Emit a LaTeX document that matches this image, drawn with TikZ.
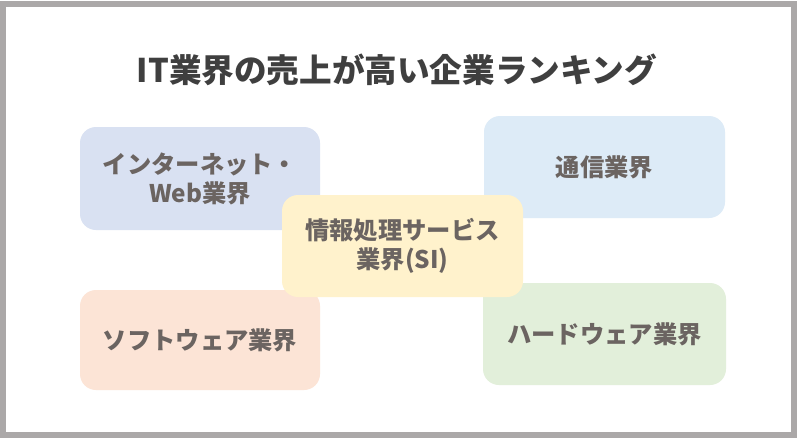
\documentclass[tikz,border=0pt]{standalone}
\usepackage{fontspec}
\newfontfamily\jp{Noto Sans CJK JP}
\definecolor{frame}{HTML}{ABA8A8}
\definecolor{txt}{HTML}{6B6461}
\definecolor{ttl}{HTML}{3F3F3F}
\definecolor{cblue}{HTML}{D9E1F2}
\definecolor{clblue}{HTML}{DDEBF7}
\definecolor{cyellow}{HTML}{FFF2CC}
\definecolor{cpink}{HTML}{FCE4D6}
\definecolor{cgreen}{HTML}{E2EFDA}
\tikzset{
  card/.style={rounded corners=16pt, inner sep=0pt, align=center, text=txt,
    font=\jp\bfseries\fontsize{24.3pt}{29pt}\selectfont},
}
\begin{document}
\begin{tikzpicture}[x=1pt,y=-1pt]
\useasboundingbox (0,0) rectangle (800,440);
\fill[white] (0,0) rectangle (800,440);
\draw[frame, line width=6pt] (3,4) rectangle (794,435);
\node[text=ttl, font=\jp\bfseries\fontsize{32.6pt}{38pt}\selectfont] (title) at (397,70) {IT業界の売上が高い企業ランキング};
\node[card, fill=cblue, minimum width=240pt, minimum height=103pt] (inet) at (200,178.5) {インターネット・\\Web業界};
\node[card, fill=clblue, minimum width=241pt, minimum height=102pt] (tsushin) at (604.5,167) {通信業界};
\node[card, fill=cpink, minimum width=240pt, minimum height=100pt] (soft) at (200,340) {ソフトウェア業界};
\node[card, fill=cgreen, minimum width=243pt, minimum height=102pt] (hard) at (604.5,334) {ハードウェア業界};
\node[card, fill=cyellow, minimum width=241pt, minimum height=102pt] (si) at (402.5,246) {情報処理サービス\\業界(SI)};
\end{tikzpicture}
\end{document}
